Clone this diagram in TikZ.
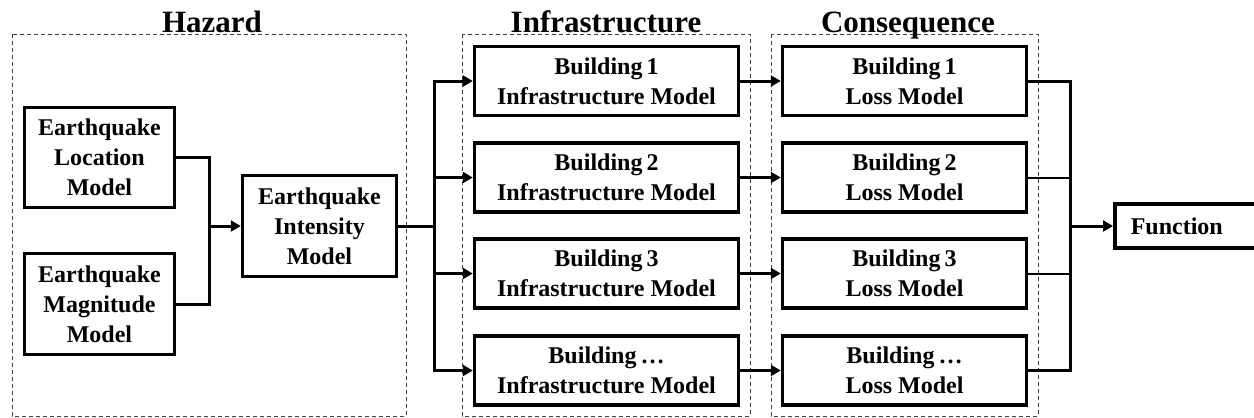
\documentclass[tikz,border=0pt]{standalone}
\usepackage{fontspec}
\setmainfont{Liberation Serif}
\usetikzlibrary{arrows.meta}
\begin{document}
\begin{tikzpicture}[x=0.5pt,y=-0.5pt,
  model/.style={draw,line width=1.75pt,align=center,inner sep=0pt,
    font=\fontsize{12}{15}\selectfont\bfseries},
  group/.style={draw=black!75,line width=0.5pt,dash pattern=on 2pt off 1.5pt},
  title/.style={anchor=base,inner sep=0pt,font=\fontsize{15.5}{18}\selectfont\bfseries},
  link/.style={line width=1.5pt},
  thinlink/.style={line width=1pt},
  arr/.style={line width=1.5pt,-{Triangle[length=5pt,width=5.5pt]}}]
\useasboundingbox (0,0) rectangle (1254,418);

% dashed group frames and their titles
\draw[group] (12,34) rectangle (406,416);
\draw[group] (462,34) rectangle (750,416);
\draw[group] (771,34) rectangle (1038,416);
\node[title] (th) at (212,32) {Hazard};
\node[title] (ti) at (606,32) {Infrastructure};
\node[title] (tc) at (908,32) {Consequence};

% hazard models
\node[model,minimum width=75pt,minimum height=50pt] (loc) at (99.5,157.5) {Earthquake\\Location\\Model};
\node[model,minimum width=75pt,minimum height=50.5pt] (mag) at (99.5,304) {Earthquake\\Magnitude\\Model};
\node[model,minimum width=77pt,minimum height=50.5pt] (int) at (319.5,226) {Earthquake\\Intensity\\Model};

% building infrastructure models
\foreach \i/\lab/\yy in {1/1/81,2/2/177.5,3/3/273.5,4/{\dots}/370.5}{
  \node[model,minimum width=132pt,minimum height=34.5pt] (b\i) at (606.5,\yy) {Building\,\lab\\Infrastructure Model};
  \node[model,minimum width=122pt,minimum height=34.5pt] (l\i) at (904.5,\yy) {Building\,\lab\\Loss Model};
}

% function
\node[model,anchor=west,minimum height=22pt,text width=62pt,inner xsep=8pt,align=left] (func) at (1113,226) {Function};

% junctions
\coordinate (j1) at (209,226);
\coordinate (j2) at (434,226);
\coordinate (j3) at (1070,226);

% hazard connectors
\draw[link] (loc.east) -| (j1) |- (mag.east);
\draw[arr] (j1) -- (int.west);
\draw[link] (int.east) -- (j2);

% fan-out to buildings and on to losses
\foreach \i in {1,2,3,4}{
  \draw[arr] (j2) |- (b\i.west);
  \draw[arr] (b\i.east) -- (l\i.west);
}

% losses gathered into function
\draw[link] (l1.east) -| (j3);
\draw[link] (l4.east) -| (j3);
\draw[thinlink] (l2.east) -- (l2.east -| j3);
\draw[thinlink] (l3.east) -- (l3.east -| j3);
\draw[arr] (j3) -- (func.west);
\end{tikzpicture}
\end{document}
